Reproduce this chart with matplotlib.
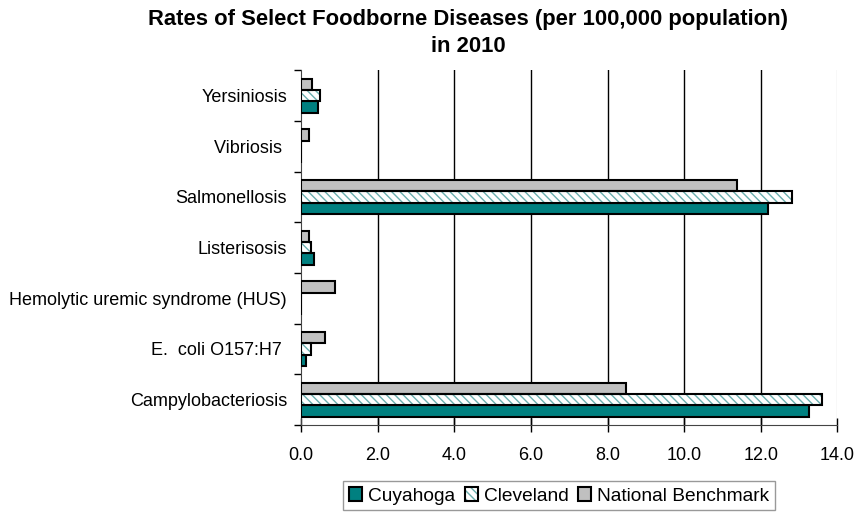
import numpy as np
import matplotlib
matplotlib.use("Agg")
import matplotlib.pyplot as plt
from matplotlib.patches import Patch

plt.rcParams['font.family'] = ['Liberation Sans', 'DejaVu Sans']
plt.rcParams['hatch.linewidth'] = 1.0

# categories, bottom to top
diseases = ["Campylobacteriosis", "E.  coli O157:H7 ", "Hemolytic uremic syndrome (HUS)",
            "Listerisosis", "Salmonellosis", "Vibriosis ", "Yersiniosis"]

cuyahoga = [13.26, 0.14, 0.0, 0.33, 12.19, 0.0, 0.45]
cleveland = [13.60, 0.27, 0.0, 0.25, 12.82, 0.0, 0.50]
national = [8.49, 0.62, 0.90, 0.21, 11.39, 0.21, 0.30]

teal = '#008080'
hatch_col = '#6aaeae'

fig = plt.figure(figsize=(8.6, 5.17), dpi=100)
ax = fig.add_axes([0.35, 0.178, 0.6238, 0.686])

y = np.arange(len(diseases))
h = 0.223

ax.barh(y - h, cuyahoga, h, color=teal, edgecolor='black', linewidth=1.5, zorder=3)
# hatch layer in light teal, then black outline on top
ax.barh(y, cleveland, h, color='white', edgecolor=hatch_col, linewidth=0,
        hatch='\\\\\\\\', zorder=3)
ax.barh(y, cleveland, h, fill=False, edgecolor='black', linewidth=1.5, zorder=4)
ax.barh(y + h, national, h, color='#c0c0c0', edgecolor='black', linewidth=1.5, zorder=3)

ax.set_xlim(0, 14)
ax.set_ylim(-0.5, len(diseases) - 0.5)
ticks = np.arange(0, 14.1, 2)
ax.set_xticks(ticks)
ax.set_xticklabels(["%.1f" % v for v in ticks], fontsize=13)

# labels at the category centres, ticks at the boundaries
ax.set_yticks(y)
ax.set_yticklabels(diseases, fontsize=13)
ax.tick_params(axis='y', length=0, pad=10)
ax.set_yticks(np.arange(-0.5, len(diseases)), minor=True)
ax.tick_params(axis='y', which='minor', length=5, width=1, direction='out')
ax.tick_params(axis='x', length=10, width=1, direction='inout', pad=11)

for xv in range(2, 13, 2):
    ax.axvline(xv, color='black', linewidth=1, zorder=1)
ax.axvline(14, color='#dddddd', linewidth=1, zorder=1)

for s in ['top', 'right']:
    ax.spines[s].set_visible(False)
ax.spines['left'].set_color('#444444')
ax.spines['bottom'].set_color('#444444')

fig.text(0.544, 0.963, "Rates of Select Foodborne Diseases (per 100,000 population)",
         ha='center', va='center', fontsize=15.8, fontweight='bold')
fig.text(0.544, 0.91, "in 2010", ha='center', va='center', fontsize=15.8, fontweight='bold')

cle_handle = (Patch(facecolor='white', edgecolor=hatch_col, hatch='\\\\\\\\', linewidth=0),
              Patch(fill=False, edgecolor='black', linewidth=1.5))
handles = [Patch(facecolor=teal, edgecolor='black', linewidth=1.5),
           cle_handle,
           Patch(facecolor='#c0c0c0', edgecolor='black', linewidth=1.5)]
labels = ['Cuyahoga', 'Cleveland', 'National Benchmark']
leg = fig.legend(handles, labels, loc='center', bbox_to_anchor=(0.65, 0.041), ncol=3,
                 fontsize=13.8, frameon=True, fancybox=False, edgecolor='#808080',
                 handlelength=0.7, handleheight=0.7, handletextpad=0.3,
                 columnspacing=0.5, borderpad=0.3)
leg.get_frame().set_linewidth(1)

fig.savefig("out.png", dpi=100)
